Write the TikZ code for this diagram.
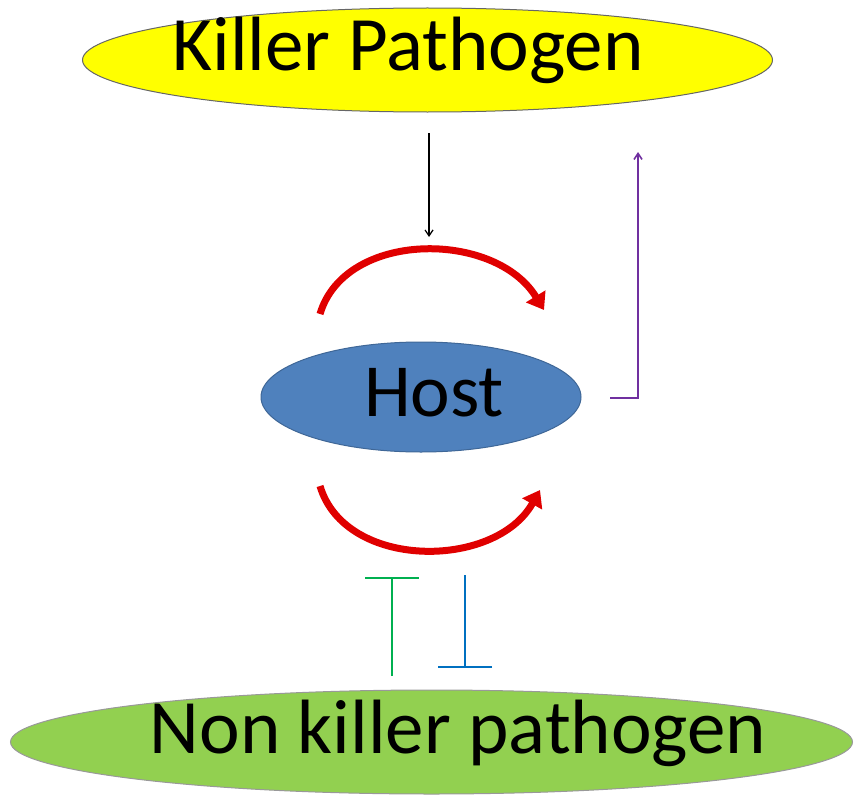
\documentclass[tikz,border=0pt]{standalone}
\usepackage{fontspec}
\setmainfont{Carlito}
\usetikzlibrary{arrows.meta}
\definecolor{ylw}{HTML}{FFFF00}
\definecolor{grn}{HTML}{92D050}
\definecolor{hostb}{HTML}{4F81BD}
\definecolor{redc}{HTML}{E00000}
\definecolor{purp}{HTML}{7030A0}
\definecolor{tgrn}{HTML}{00B050}
\definecolor{tblu}{HTML}{0070C0}
\begin{document}
\begin{tikzpicture}[x=1pt,y=-1pt,
  redarc/.style={redc,line width=7pt,-{Triangle[width=22pt,length=16pt]}},
  inh/.style={line width=1.6pt,-{Bar[width=54pt]}}]
\useasboundingbox (0,0) rectangle (859,800);
\path[fill=ylw,draw=black!60,line width=1pt] (427.5,60) ellipse [x radius=345,y radius=52];
\node (kp) at (408,50) {\fontsize{77}{82}\selectfont Killer Pathogen};
\path[fill=grn,draw=black!40,line width=1pt] (431.5,742) ellipse [x radius=421,y radius=52];
\node (nk) at (458,733) {\fontsize{77}{82}\selectfont Non killer pathogen};
\path[fill=hostb,draw=hostb!80!black,line width=1pt] (421,397) ellipse [x radius=160,y radius=55];
\node (host) at (434,393) {\fontsize{75}{80}\selectfont Host};
\coordinate (a1) at (429,133); \coordinate (a2) at (429,237);
\draw[line width=1.2pt,-{Straight Barb[length=6pt,width=8pt]}] (a1) -- (a2);
\coordinate (p1) at (610,398); \coordinate (p2) at (638,398); \coordinate (p3) at (638,152);
\draw[purp,line width=1.6pt,-{Straight Barb[length=6pt,width=8pt]}] (p1) -- (p2) -- (p3);
\coordinate (r1) at (320,314); \coordinate (r2) at (544,310);
\draw[redarc] (r1) .. controls (345,230) and (495,230) .. (r2);
\coordinate (r3) at (320,486); \coordinate (r4) at (540,490);
\draw[redarc] (r3) .. controls (345,570) and (495,570) .. (r4);
\coordinate (g1) at (392,676); \coordinate (g2) at (392,577);
\draw[tgrn,inh] (g1) -- (g2);
\coordinate (b1) at (465,575); \coordinate (b2) at (465,668);
\draw[tblu,inh] (b1) -- (b2);
\end{tikzpicture}
\end{document}
